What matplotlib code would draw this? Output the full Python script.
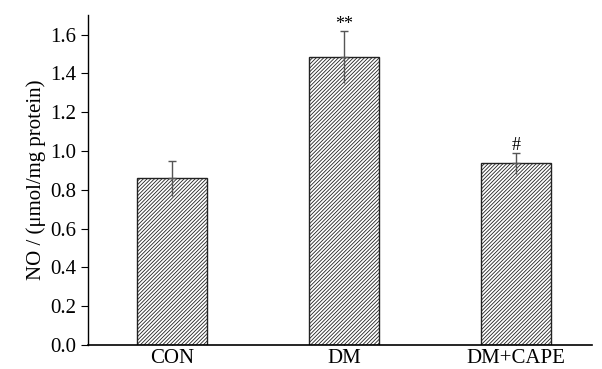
import numpy as np
import matplotlib.pyplot as plt

plt.rcParams['font.family'] = ['Liberation Serif', 'DejaVu Serif']
plt.rcParams['hatch.color'] = '#444444'
plt.rcParams['hatch.linewidth'] = 0.6

groups = ['CON', 'DM', 'DM+CAPE']
means = [0.86, 1.485, 0.937]
errs = [0.09, 0.135, 0.055]
marks = ['', '**', '#']

fig = plt.figure(figsize=(6.02, 3.69), dpi=100)
ax = fig.add_axes([0.146, 0.065, 0.837, 0.894])

x = np.arange(len(groups))
ax.bar(x, means, width=0.407, color='white', edgecolor='#222222',
       linewidth=1.0, hatch='/////////', zorder=2)
# lower half of the error bar has no cap
ax.vlines(x, np.array(means) - np.array(errs), means, color='#555555',
          linewidth=1.0, zorder=3)
ax.errorbar(x, means, yerr=[np.zeros(3), errs], fmt='none', ecolor='#555555',
            elinewidth=1.0, capsize=3, capthick=1.0, zorder=3)
for xi, m, e, s in zip(x, means, errs, marks):
    if s:
        ax.text(xi, m + e - 0.01, s, ha='center', va='bottom', fontsize=13)

ax.set_xlim(-0.49, 2.44)
ax.set_ylim(0, 1.70)
ax.set_yticks(np.arange(0, 1.61, 0.2))
ax.set_yticklabels(['%.1f' % v for v in np.arange(0, 1.61, 0.2)])
ax.set_xticks(x)
ax.set_xticklabels(groups)
ax.tick_params(axis='y', direction='out', length=5, labelsize=15)
ax.tick_params(axis='x', direction='in', length=3, labelsize=15, pad=3)
ax.spines['top'].set_visible(False)
ax.spines['right'].set_visible(False)
ax.spines['left'].set_linewidth(1.0)
ax.spines['bottom'].set_linewidth(1.2)
ax.set_ylabel('NO / (μmol/mg protein)', fontsize=15, labelpad=3)

fig.savefig('out.png', dpi=100)
